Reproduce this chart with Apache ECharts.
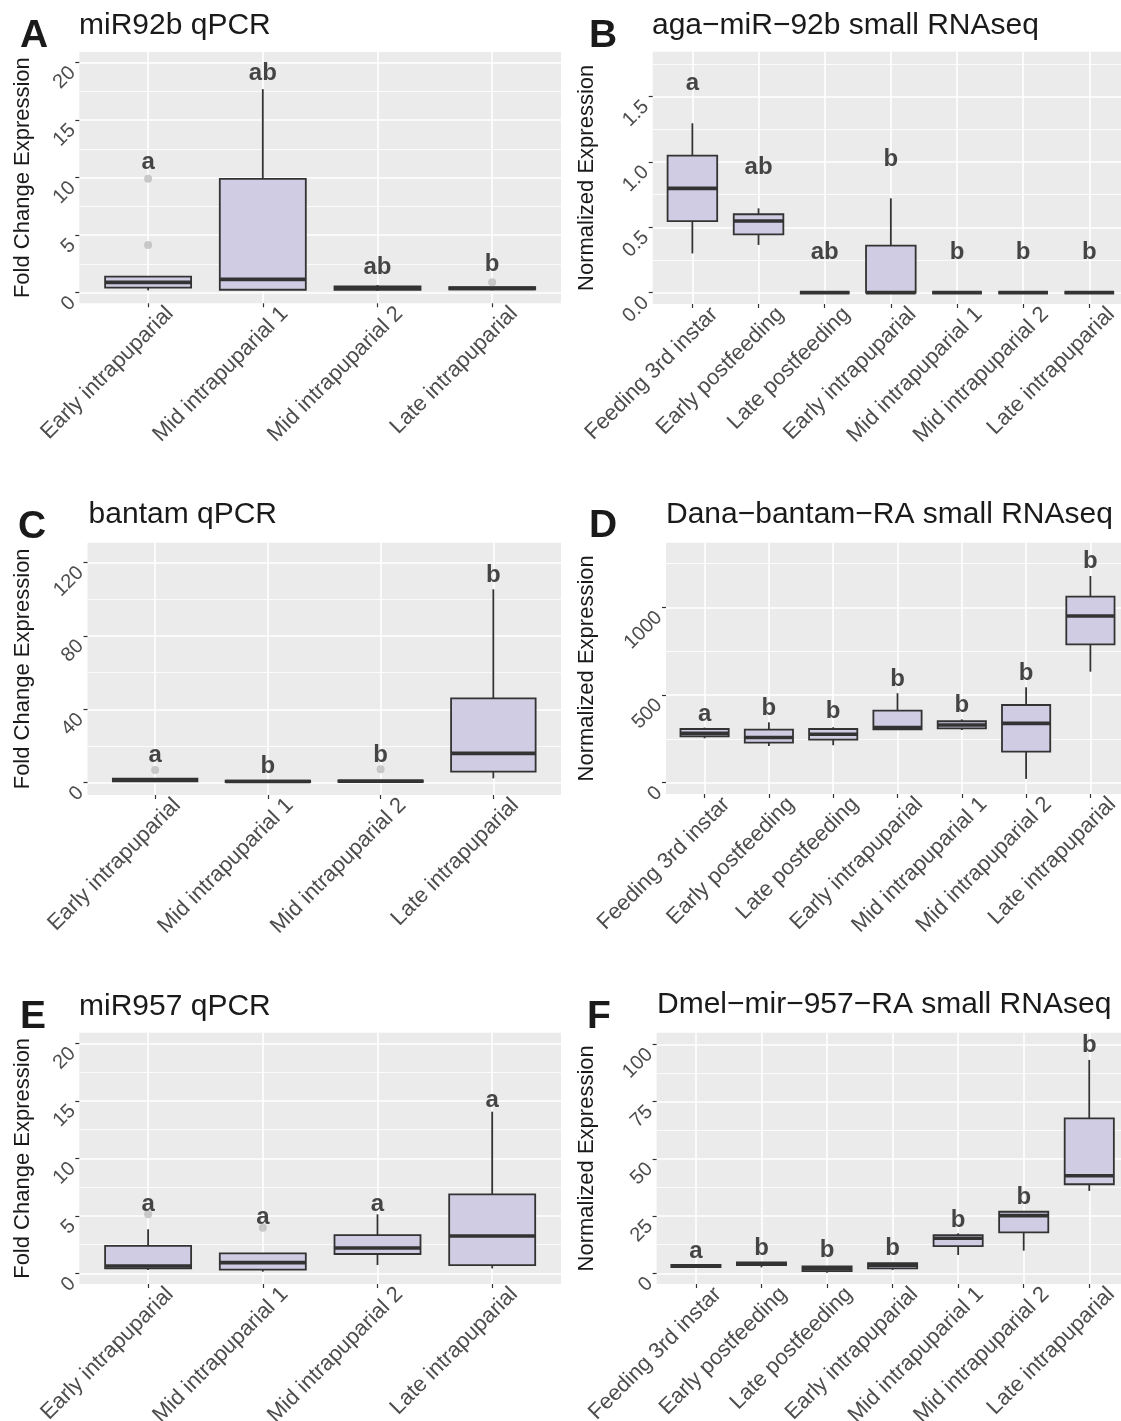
<!DOCTYPE html>
<html><head><meta charset="utf-8">
<script src="https://cdn.jsdelivr.net/npm/echarts@6/dist/echarts.min.js"></script>
<style>html,body{margin:0;padding:0;background:#fff}#c{width:1121px;height:1421px}</style>
</head><body><div id="c"></div>
<script>
// categories
const catsQ = ['Early intrapuparial', 'Mid intrapuparial 1', 'Mid intrapuparial 2', 'Late intrapuparial'];
const catsS = ['Feeding 3rd instar', 'Early postfeeding', 'Late postfeeding', 'Early intrapuparial', 'Mid intrapuparial 1', 'Mid intrapuparial 2', 'Late intrapuparial'];

// box stats: [lower whisker, Q1, median, Q3, upper whisker]
const boxA = [[0.2, 0.45, 0.9, 1.4, 1.4], [0.2, 0.26, 1.16, 9.9, 17.7], [0.15, 0.25, 0.4, 0.55, 0.67], [0.2, 0.3, 0.38, 0.48, 0.55]];
const outA = [[0, 9.9], [0, 4.15], [3, 0.9]];
const letA = ['a', 'ab', 'ab', 'b'];
const letYA = [11.3, 19.1, 2.2, 2.5];
const tickA = [0, 5, 10, 15, 20];

const boxB = [[0.30, 0.548, 0.798, 1.048, 1.296], [0.365, 0.446, 0.548, 0.60, 0.645], [0, 0, 0, 0, 0], [0, 0, 0, 0.36, 0.722], [0, 0, 0, 0, 0], [0, 0, 0, 0, 0], [0, 0, 0, 0, 0]];
const outB = [];
const letB = ['a', 'ab', 'ab', 'b', 'b', 'b', 'b'];
const letYB = [1.60, 0.957, 0.31, 1.02, 0.31, 0.31, 0.31];
const tickB = [0, 0.5, 1.0, 1.5];

const boxC = [[0.5, 0.8, 1.5, 2.2, 2.5], [0.2, 0.4, 0.7, 1.1, 1.3], [0.2, 0.5, 0.8, 1.2, 1.5], [2.4, 6, 16, 46, 105.5]];
const outC = [[0, 6.9], [2, 7.3]];
const letC = ['a', 'b', 'b', 'b'];
const letYC = [14.7, 8.7, 15.1, 112.9];
const tickC = [0, 40, 80, 120];

const boxD = [[253, 264, 281, 306, 314], [209, 228, 257, 302, 344], [213, 245, 276, 306, 316], [300, 304, 314, 411, 510], [300, 310, 329, 350, 361], [21, 177, 338, 443, 544], [633, 789, 951, 1061, 1179]];
const outD = [];
const letD = ['a', 'b', 'b', 'b', 'b', 'b', 'b'];
const letYD = [392, 424, 405, 591, 443, 624, 1264];
const tickD = [0, 500, 1000];

const boxE = [[0.29, 0.43, 0.64, 2.38, 3.83], [0.14, 0.32, 0.93, 1.74, 1.74], [0.72, 1.68, 2.2, 3.33, 5.13], [0.43, 0.72, 3.25, 6.87, 14.06]];
const outE = [[0, 5.13], [1, 3.97]];
const letE = ['a', 'a', 'a', 'a'];
const letYE = [6.03, 4.87, 6.03, 15.07];
const tickE = [0, 5, 10, 15, 20];

const boxF = [[2.6, 2.7, 3.2, 3.7, 3.9], [2.6, 3.6, 4.2, 4.8, 5.0], [0.3, 1.0, 2.0, 3.0, 3.2], [1.5, 2.2, 3.5, 4.4, 4.7], [8.0, 11.9, 15.3, 16.7, 17.5], [9.9, 17.9, 25.2, 26.9, 26.9], [36, 38.9, 42.6, 67.7, 93.2]];
const outF = [];
const letF = ['a', 'b', 'b', 'b', 'b', 'b', 'b'];
const letYF = [9.5, 10.9, 9.9, 10.9, 23.3, 33.2, 99.4];
const tickF = [0, 25, 50, 75, 100];

const panels = [
  {tag: 'A', title: 'miR92b qPCR', cats: catsQ, box: boxA, out: outA, lets: letA, letY: letYA, ticks: tickA, dec: 0, step: 5,
   yName: 'Fold Change Expression', yMin: -0.92, yMax: 20.93, left: 79.3, width: 481.7, top: 52, height: 251.3, nameGap: 45,
   tx: 79, ty: 26, lx: 20, ly: 36},
  {tag: 'B', title: 'aga\u2212miR\u221292b small RNAseq', cats: catsS, box: boxB, out: outB, lets: letB, letY: letYB, ticks: tickB, dec: 1, step: 0.5,
   yName: 'Normalized Expression', yMin: -0.087, yMax: 1.844, left: 652.7, width: 476.3, top: 51.7, height: 252.3, nameGap: 55,
   tx: 652, ty: 26, lx: 589, ly: 36},
  {tag: 'C', title: 'bantam qPCR', cats: catsQ, box: boxC, out: outC, lets: letC, letY: letYC, ticks: tickC, dec: 0, step: 40,
   yName: 'Fold Change Expression', yMin: -6.7, yMax: 130.9, left: 87.5, width: 473.5, top: 542.7, height: 252.3, nameGap: 53.5,
   tx: 88.6, ty: 515, lx: 18, ly: 527.5},
  {tag: 'D', title: 'Dana\u2212bantam\u2212RA small RNAseq', cats: catsS, box: boxD, out: outD, lets: letD, letY: letYD, ticks: tickD, dec: 0, step: 500,
   yName: 'Normalized Expression', yMin: -65, yMax: 1369, left: 666, width: 463, top: 542.7, height: 251.3, nameGap: 68,
   tx: 666, ty: 515, lx: 589, ly: 526},
  {tag: 'E', title: 'miR957 qPCR', cats: catsQ, box: boxE, out: outE, lets: letE, letY: letYE, ticks: tickE, dec: 0, step: 5,
   yName: 'Fold Change Expression', yMin: -0.93, yMax: 20.93, left: 79.3, width: 481.7, top: 1032.7, height: 251.3, nameGap: 45,
   tx: 79, ty: 1007, lx: 20, ly: 1017.5},
  {tag: 'F', title: 'Dmel\u2212mir\u2212957\u2212RA small RNAseq', cats: catsS, box: boxF, out: outF, lets: letF, letY: letYF, ticks: tickF, dec: 0, step: 25,
   yName: 'Normalized Expression', yMin: -4.66, yMax: 105.1, left: 656.6, width: 472, top: 1032.7, height: 251.3, nameGap: 59,
   tx: 657, ty: 1005, lx: 587, ly: 1017.5}
];

const FONT = '"Liberation Sans", Arial, Helvetica, sans-serif';
const FILL = '#CFCCE3';
const STROKE = '#333333';

const grid = [], xAxis = [], yAxis = [], series = [], graphic = [];

panels.forEach((p, i) => {
  const n = p.cats.length;
  const idx = p.cats.map((c, k) => k);
  grid.push({left: p.left, top: p.top, width: p.width, height: p.height, show: true,
    backgroundColor: '#EBEBEB', borderWidth: 0, containLabel: false, outerBoundsMode: 'none'});
  xAxis.push({gridIndex: i, type: 'value', position: 'bottom', min: -0.6, max: n - 0.4, minInterval: 1, maxInterval: 1,
    axisLine: {show: false, onZero: false},
    axisTick: {show: true, length: 4, customValues: idx, lineStyle: {color: '#333', width: 1.2}},
    axisLabel: {customValues: idx, formatter: (v) => p.cats[Math.round(v)], rotate: 45, fontSize: 22,
      fontFamily: FONT, color: '#4D4D4D', align: 'right', verticalAlign: 'top', padding: [20, 0, 0, 0], margin: -15},
    splitLine: {show: true, lineStyle: {color: '#FFFFFF', width: 1.6}}
  });
  yAxis.push({gridIndex: i, type: 'value', position: 'left', min: p.yMin, max: p.yMax, minInterval: p.step, maxInterval: p.step,
    axisLine: {show: false, onZero: false},
    axisTick: {show: true, length: 4, customValues: p.ticks, lineStyle: {color: '#333', width: 1.2}},
    axisLabel: {customValues: p.ticks, formatter: (v) => v.toFixed(p.dec), rotate: 45, fontSize: 20,
      fontFamily: FONT, color: '#4D4D4D', verticalAlign: 'top', margin: 14},
    splitLine: {show: true, lineStyle: {color: '#FFFFFF', width: 1.6}},
    minorTick: {show: false, splitNumber: 2},
    minorSplitLine: {show: true, lineStyle: {color: '#FFFFFF', width: 0.8}},
    name: p.yName, nameLocation: 'middle', nameGap: p.nameGap,
    nameTextStyle: {fontSize: 22, fontFamily: FONT, color: '#1A1A1A'}
  });
  series.push({type: 'custom', xAxisIndex: i, yAxisIndex: i, silent: true, z: 2,
    encode: {x: 0, y: [1, 2, 3, 4, 5]},
    data: p.box.map((b, k) => [k].concat(b)),
    renderItem: function (params, api) {
      const x = api.value(0), lo = api.value(1), q1 = api.value(2), md = api.value(3), q3 = api.value(4), hi = api.value(5);
      const hw = 0.375;
      const a = api.coord([x - hw, q3]), b = api.coord([x + hw, q1]);
      const pHi = api.coord([x, hi]), pQ3 = api.coord([x, q3]), pQ1 = api.coord([x, q1]), pLo = api.coord([x, lo]);
      const mL = api.coord([x - hw, md]), mR = api.coord([x + hw, md]);
      return {type: 'group', children: [
        {type: 'line', shape: {x1: pHi[0], y1: pHi[1], x2: pQ3[0], y2: pQ3[1]}, style: {stroke: STROKE, lineWidth: 1.8}},
        {type: 'line', shape: {x1: pLo[0], y1: pLo[1], x2: pQ1[0], y2: pQ1[1]}, style: {stroke: STROKE, lineWidth: 1.8}},
        {type: 'rect', shape: {x: a[0], y: a[1], width: b[0] - a[0], height: b[1] - a[1]}, style: {fill: FILL, stroke: STROKE, lineWidth: 1.8}},
        {type: 'line', shape: {x1: mL[0], y1: mL[1], x2: mR[0], y2: mR[1]}, style: {stroke: STROKE, lineWidth: 3.6}}
      ]};
    }
  });
  series.push({type: 'scatter', xAxisIndex: i, yAxisIndex: i, silent: true, z: 4, symbolSize: 8,
    itemStyle: {color: '#BDBDBD'}, data: p.out});
  series.push({type: 'scatter', xAxisIndex: i, yAxisIndex: i, silent: true, z: 5, symbolSize: 1,
    itemStyle: {color: 'rgba(0,0,0,0)'},
    data: p.letY.map((y, k) => [k, y, p.lets[k]]),
    label: {show: true, position: 'inside', formatter: (q) => q.value[2], fontSize: 24, fontWeight: 'bold',
      fontFamily: FONT, color: '#1A1A1A'}
  });
  graphic.push({type: 'text', x: p.tx, y: p.ty, silent: true,
    style: {text: p.title, fontSize: 30, fontFamily: FONT, fill: '#1A1A1A', verticalAlign: 'middle', align: 'left'}});
  graphic.push({type: 'text', x: p.lx, y: p.ly, silent: true,
    style: {text: p.tag, fontSize: 39, fontWeight: 'bold', fontFamily: FONT, fill: '#1A1A1A', verticalAlign: 'middle', align: 'left'}});
});

const chart = echarts.init(document.getElementById('c'), null, {renderer: 'canvas'});
chart.setOption({animation: false, backgroundColor: '#FFFFFF', grid, xAxis, yAxis, series, graphic});
</script>
</body></html>
